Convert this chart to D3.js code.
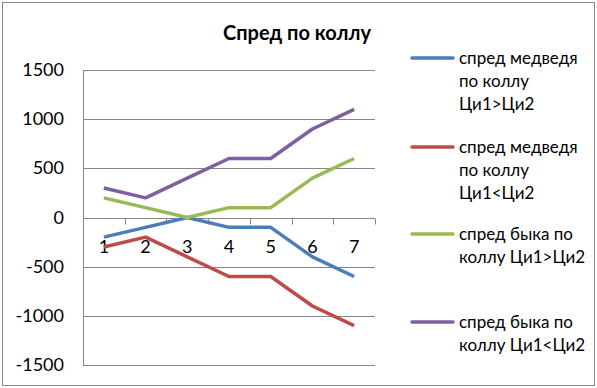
<!DOCTYPE html>
<html>
<head>
<meta charset="utf-8">
<script src="https://cdn.jsdelivr.net/npm/d3@7"></script>
<style>
  body { margin: 0; background: #fff; }
  text { font-family: Lato, "Liberation Sans", sans-serif; fill: #000; }
</style>
</head>
<body>
<svg id="chart" width="597" height="388"></svg>
<script>
const categories = ["1", "2", "3", "4", "5", "6", "7"];
const yTicks = [-1500, -1000, -500, 0, 500, 1000, 1500];
const seriesNames = [
  ["спред медведя", "по коллу", "Ци1>Ци2"],
  ["спред медведя", "по коллу", "Ци1<Ци2"],
  ["спред быка по", "коллу Ци1>Ци2"],
  ["спред быка по", "коллу Ци1<Ци2"]
];
const bearCallUp = [-200, -100, 0, -100, -100, -400, -600];
const bearCallDown = [-300, -200, -400, -600, -600, -900, -1100];
const bullCallUp = [200, 100, 0, 100, 100, 400, 600];
const bullCallDown = [300, 200, 400, 600, 600, 900, 1100];
const colors = ["#4A7EBB", "#BE4B48", "#98B954", "#7D60A0"];

const series = [bearCallUp, bearCallDown, bullCallUp, bullCallDown];

const svg = d3.select("#chart");
const grid = "#868686";

svg.append("rect")
  .attr("x", 2.5).attr("y", 2.5)
  .attr("width", 592).attr("height", 383)
  .attr("fill", "#fff").attr("stroke", grid);

const x = d3.scaleBand().domain(categories).range([83, 375]);
const y = d3.scaleLinear().domain([-1500, 1500]).range([365, 70]);

// grid lines
svg.append("g")
  .selectAll("line")
  .data(yTicks)
  .join("line")
  .attr("x1", 83).attr("x2", 375)
  .attr("y1", d => Math.round(y(d)) + 0.5)
  .attr("y2", d => Math.round(y(d)) + 0.5)
  .attr("stroke", grid);

// y axis
svg.append("line")
  .attr("x1", 83.5).attr("x2", 83.5)
  .attr("y1", y(1500)).attr("y2", y(-1500))
  .attr("stroke", grid);

svg.append("g")
  .selectAll("text")
  .data(yTicks)
  .join("text")
  .attr("x", 64)
  .attr("y", d => y(d) + 6)
  .attr("text-anchor", "end")
  .style("font-size", "18px")
  .text(d => d);

// x axis on zero line
const zeroY = Math.round(y(0)) + 0.5;
svg.append("g")
  .selectAll("line")
  .data(categories)
  .join("line")
  .attr("x1", d => Math.round(x(d) + x.bandwidth()) + 0.5)
  .attr("x2", d => Math.round(x(d) + x.bandwidth()) + 0.5)
  .attr("y1", zeroY).attr("y2", zeroY + 6)
  .attr("stroke", grid);

svg.append("g")
  .selectAll("text")
  .data(categories)
  .join("text")
  .attr("x", d => x(d) + x.bandwidth() / 2)
  .attr("y", zeroY + 34)
  .attr("text-anchor", "middle")
  .style("font-size", "18px")
  .text(d => d);

// lines
const line = d3.line()
  .x((d, i) => x(categories[i]) + x.bandwidth() / 2)
  .y(d => y(d));

svg.append("g")
  .selectAll("path")
  .data(series)
  .join("path")
  .attr("d", d => line(d))
  .attr("fill", "none")
  .attr("stroke", (d, i) => colors[i])
  .attr("stroke-width", 3.5)
  .attr("stroke-linejoin", "round");

// title
svg.append("text")
  .attr("x", 297).attr("y", 40)
  .attr("text-anchor", "middle")
  .style("font-size", "20px")
  .style("font-weight", "bold")
  .text("Спред по коллу");

// legend
const legendY = [58, 147, 234, 322];
const legend = svg.append("g");
seriesNames.forEach((lines, i) => {
  legend.append("line")
    .attr("x1", 412).attr("x2", 453)
    .attr("y1", legendY[i]).attr("y2", legendY[i])
    .attr("stroke", colors[i])
    .attr("stroke-width", 3.5)
    .attr("stroke-linecap", "round");
  legend.append("text")
    .attr("x", 459)
    .attr("y", legendY[i] + 6)
    .style("font-size", "17px")
    .selectAll("tspan")
    .data(lines)
    .join("tspan")
    .attr("x", 459)
    .attr("dy", (d, j) => j === 0 ? 0 : 23)
    .text(d => d);
});
</script>
</body>
</html>
